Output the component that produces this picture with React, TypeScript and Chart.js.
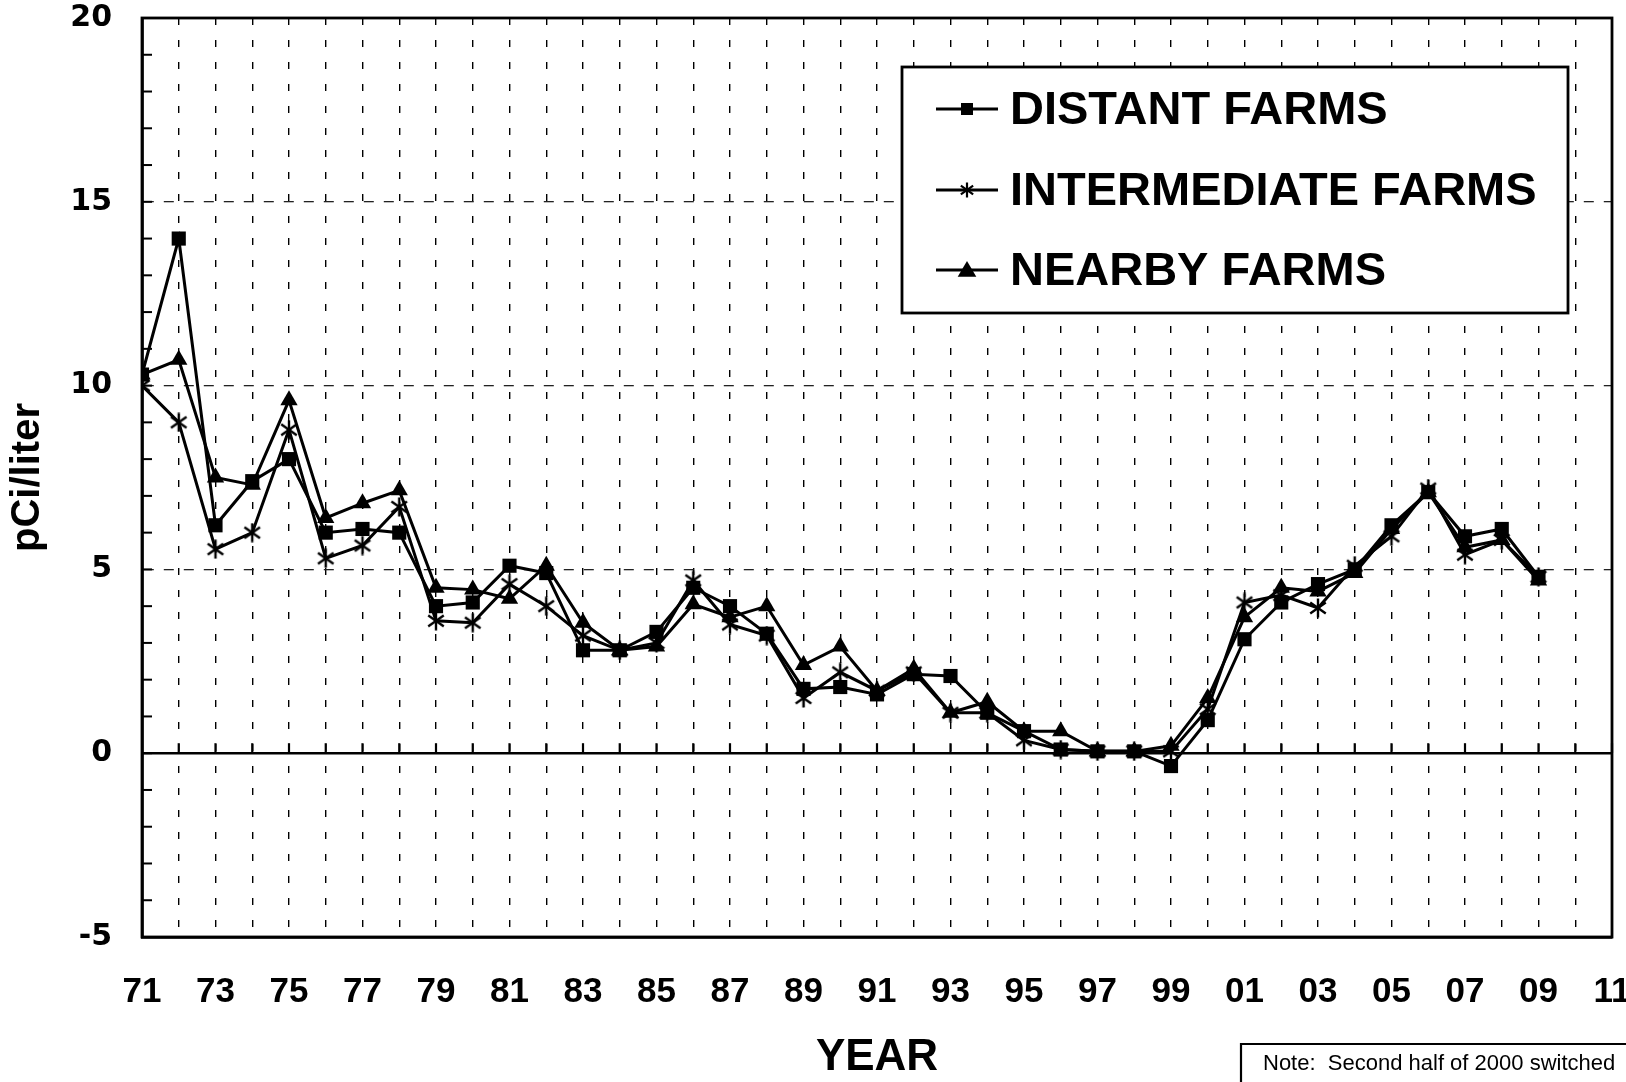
import React, { useEffect, useRef } from "react";
import { Chart, registerables } from "chart.js";

Chart.register(...registerables);

const years: number[] = [
  1971, 1972, 1973, 1974, 1975, 1976, 1977, 1978, 1979, 1980,
  1981, 1982, 1983, 1984, 1985, 1986, 1987, 1988, 1989, 1990,
  1991, 1992, 1993, 1994, 1995, 1996, 1997, 1998, 1999, 2000,
  2001, 2002, 2003, 2004, 2005, 2006, 2007, 2008, 2009,
];

const distantFarms: number[] = [
  10.3, 14.0, 6.2, 7.4, 8.0, 6.0, 6.1, 6.0, 4.0, 4.1,
  5.1, 4.9, 2.8, 2.8, 3.3, 4.5, 4.0, 3.25, 1.75, 1.8,
  1.6, 2.15, 2.1, 1.1, 0.6, 0.1, 0.05, 0.05, -0.35, 0.9,
  3.1, 4.1, 4.6, 5.0, 6.2, 7.1, 5.9, 6.1, 4.8,
];

const intermediateFarms: number[] = [
  10.0, 9.0, 5.55, 6.0, 8.8, 5.3, 5.65, 6.7, 3.6, 3.55,
  4.6, 4.0, 3.2, 2.8, 3.0, 4.7, 3.5, 3.2, 1.5, 2.2,
  1.7, 2.2, 1.1, 1.1, 0.35, 0.1, 0.05, 0.05, 0.05, 1.2,
  4.1, 4.3, 3.95, 5.1, 5.9, 7.2, 5.4, 5.8, 4.8,
];

const nearbyFarms: number[] = [
  10.3, 10.7, 7.5, 7.3, 9.6, 6.4, 6.8, 7.15, 4.5, 4.45,
  4.2, 5.1, 3.55, 2.8, 2.9, 4.05, 3.7, 4.0, 2.4, 2.9,
  1.7, 2.3, 1.1, 1.4, 0.6, 0.6, 0.05, 0.05, 0.2, 1.5,
  3.7, 4.5, 4.4, 4.9, 6.1, 7.1, 5.6, 5.8, 4.7,
];

const seriesLabels: string[] = ["DISTANT FARMS", "INTERMEDIATE FARMS", "NEARBY FARMS"];
const yTickValues: number[] = [-5, 0, 5, 10, 15, 20];
const noteText = "Note:  Second half of 2000 switched";

function makeAsterisk(size: number, lw: number): HTMLCanvasElement {
  const c = document.createElement("canvas");
  c.width = size;
  c.height = size;
  const g = c.getContext("2d")!;
  g.strokeStyle = "#000";
  g.lineWidth = lw;
  g.lineCap = "butt";
  const r = size / 2 - 0.5;
  const cx = size / 2;
  const cy = size / 2;
  [90, 35, 145].forEach((deg) => {
    const a = (deg * Math.PI) / 180;
    g.beginPath();
    g.moveTo(cx - r * Math.cos(a), cy - r * Math.sin(a));
    g.lineTo(cx + r * Math.cos(a), cy + r * Math.sin(a));
    g.stroke();
  });
  return c;
}

function drawMarker(ctx: CanvasRenderingContext2D, kind: number, x: number, y: number, s: number) {
  ctx.save();
  ctx.fillStyle = "#000";
  ctx.strokeStyle = "#000";
  if (kind === 0) {
    ctx.fillRect(x - s / 2, y - s / 2, s, s);
  } else if (kind === 1) {
    ctx.lineWidth = 2.2;
    const r = s / 2 + 1.5;
    [90, 35, 145].forEach((deg) => {
      const a = (deg * Math.PI) / 180;
      ctx.beginPath();
      ctx.moveTo(x - r * Math.cos(a), y - r * Math.sin(a));
      ctx.lineTo(x + r * Math.cos(a), y + r * Math.sin(a));
      ctx.stroke();
    });
  } else {
    const h = s;
    ctx.beginPath();
    ctx.moveTo(x, y - h * 0.6);
    ctx.lineTo(x + h * 0.62, y + h * 0.45);
    ctx.lineTo(x - h * 0.62, y + h * 0.45);
    ctx.closePath();
    ctx.fill();
  }
  ctx.restore();
}

const extrasPlugin = {
  id: "extras",
  beforeDatasetsDraw(chart: any) {
    const { ctx, chartArea, scales } = chart;
    const xs = scales.x;
    const ys = scales.y;
    ctx.save();
    const y0 = ys.getPixelForValue(0);
    ctx.strokeStyle = "#000";
    ctx.lineWidth = 2.4;
    ctx.beginPath();
    ctx.moveTo(chartArea.left, y0);
    ctx.lineTo(chartArea.right, y0);
    ctx.stroke();
    ctx.lineWidth = 2.2;
    for (let yr = 1972; yr <= 2011; yr++) {
      const x = xs.getPixelForValue(yr);
      ctx.beginPath();
      ctx.moveTo(x, y0);
      ctx.lineTo(x, y0 - 10);
      ctx.stroke();
    }
    ctx.lineWidth = 2;
    for (let v = -4; v <= 19; v++) {
      const y = ys.getPixelForValue(v);
      ctx.beginPath();
      ctx.moveTo(chartArea.left, y);
      ctx.lineTo(chartArea.left + 10, y);
      ctx.stroke();
    }
    ctx.lineWidth = 2.8;
    ctx.strokeRect(chartArea.left, chartArea.top, chartArea.right - chartArea.left, chartArea.bottom - chartArea.top);
    ctx.restore();
  },
  afterDatasetsDraw(chart: any) {
    const { ctx } = chart;
    const L = 902, T = 67, R = 1568, B = 313;
    ctx.save();
    ctx.fillStyle = "#fff";
    ctx.fillRect(L, T, R - L, B - T);
    ctx.strokeStyle = "#000";
    ctx.lineWidth = 2.8;
    ctx.strokeRect(L, T, R - L, B - T);
    const rows = [109, 190, 270];
    ctx.font = "bold 47px 'Liberation Sans', Arial, sans-serif";
    ctx.textBaseline = "middle";
    ctx.textAlign = "left";
    chart.data.datasets.forEach((ds: any, i: number) => {
      const y = rows[i];
      ctx.strokeStyle = "#000";
      ctx.lineWidth = 3;
      ctx.beginPath();
      ctx.moveTo(936, y);
      ctx.lineTo(998, y);
      ctx.stroke();
      drawMarker(ctx, i, 967, y, i === 2 ? 15 : 12);
      ctx.fillStyle = "#000";
      ctx.fillText(ds.label, 1010, y + 2);
    });
    ctx.restore();
  },
  afterDraw(chart: any) {
    const { ctx } = chart;
    ctx.save();
    ctx.strokeStyle = "#000";
    ctx.lineWidth = 2.2;
    ctx.beginPath();
    ctx.moveTo(1241, 1090);
    ctx.lineTo(1241, 1044);
    ctx.lineTo(1630, 1044);
    ctx.stroke();
    ctx.fillStyle = "#000";
    ctx.font = "22px 'Liberation Sans', Arial, sans-serif";
    ctx.textBaseline = "middle";
    ctx.textAlign = "left";
    ctx.fillText(noteText, 1263, 1064);
    ctx.restore();
  },
};

export default function App() {
  const canvasRef = useRef<HTMLCanvasElement | null>(null);

  useEffect(() => {
    const canvas = canvasRef.current;
    if (!canvas) return;
    const asterisk = makeAsterisk(20, 2.4);
    const chart = new Chart(canvas, {
      type: "line",
      data: {
        labels: years,
        datasets: [
          {
            label: seriesLabels[0],
            data: years.map((y, i) => ({ x: y, y: distantFarms[i] })),
            borderColor: "#000",
            backgroundColor: "#000",
            borderWidth: 3,
            pointStyle: "rect",
            pointRadius: 10,
            pointBorderWidth: 0,
            pointBackgroundColor: "#000",
            tension: 0,
          },
          {
            label: seriesLabels[1],
            data: years.map((y, i) => ({ x: y, y: intermediateFarms[i] })),
            borderColor: "#000",
            backgroundColor: "#000",
            borderWidth: 3,
            pointStyle: asterisk as any,
            pointRadius: 10,
            tension: 0,
          },
          {
            label: seriesLabels[2],
            data: years.map((y, i) => ({ x: y, y: nearbyFarms[i] })),
            borderColor: "#000",
            backgroundColor: "#000",
            borderWidth: 3,
            pointStyle: "triangle",
            pointRadius: 10,
            pointBorderWidth: 0,
            pointBackgroundColor: "#000",
            tension: 0,
          },
        ],
      },
      options: {
        animation: false,
        responsive: true,
        maintainAspectRatio: false,
        layout: { padding: { top: 18, right: 14, left: 6, bottom: 0 } },
        plugins: {
          legend: { display: false },
          tooltip: { enabled: false },
        },
        scales: {
          x: {
            type: "linear",
            min: 1971,
            max: 2011,
            offset: false,
            afterFit: (s: any) => {
              s.height = 145;
              s.paddingLeft = 0;
              s.paddingRight = 0;
            },
            ticks: {
              stepSize: 1,
              autoSkip: false,
              maxRotation: 0,
              minRotation: 0,
              padding: 34,
              color: "#000",
              font: { family: "'Liberation Sans', Arial, sans-serif", weight: "bold", size: 35 },
              callback: (v: any) => {
                const n = Math.round(Number(v));
                return n % 2 === 1 ? String(n % 100).padStart(2, "0") : "";
              },
            },
            grid: {
              display: true,
              drawTicks: false,
              color: "#000",
              lineWidth: 1.4,
            },
            border: { display: true, color: "#000", width: 2.8, dash: [7, 15] },
            title: {
              display: true,
              text: "YEAR",
              color: "#000",
              font: { family: "'Liberation Sans', Arial, sans-serif", weight: "bold", size: 44, lineHeight: 1 },
              padding: { top: 0, bottom: 2 },
            },
          },
          y: {
            type: "linear",
            min: -5,
            max: 20,
            afterFit: (s: any) => {
              s.width = 136;
              s.paddingTop = 0;
              s.paddingBottom = 0;
            },
            afterBuildTicks: (s: any) => {
              s.ticks = yTickValues.map((v) => ({ value: v }));
            },
            ticks: {
              padding: 30,
              color: "#000",
              font: { family: "'DejaVu Sans', sans-serif", weight: "bold", size: 30 },
              callback: (v: any) => String(v),
            },
            grid: {
              display: true,
              drawTicks: false,
              color: (c: any) => {
                const v = c.tick ? c.tick.value : null;
                return v === 5 || v === 10 || v === 15 ? "#222" : "rgba(0,0,0,0)";
              },
              lineWidth: 1.3,
            },
            border: { display: true, color: "#000", width: 2.8, dash: [10, 10] },
            title: {
              display: true,
              text: "pCi/liter",
              color: "#000",
              font: { family: "'Liberation Sans', Arial, sans-serif", weight: "bold", size: 40, lineHeight: 1.1 },
              padding: { top: 0, bottom: 0 },
            },
          },
        },
      },
      plugins: [extrasPlugin],
    });
    return () => chart.destroy();
  }, []);

  return (
    <div style={{ position: "fixed", left: 0, top: 0, width: 1626, height: 1082, background: "#fff" }}>
      <canvas ref={canvasRef} />
    </div>
  );
}
